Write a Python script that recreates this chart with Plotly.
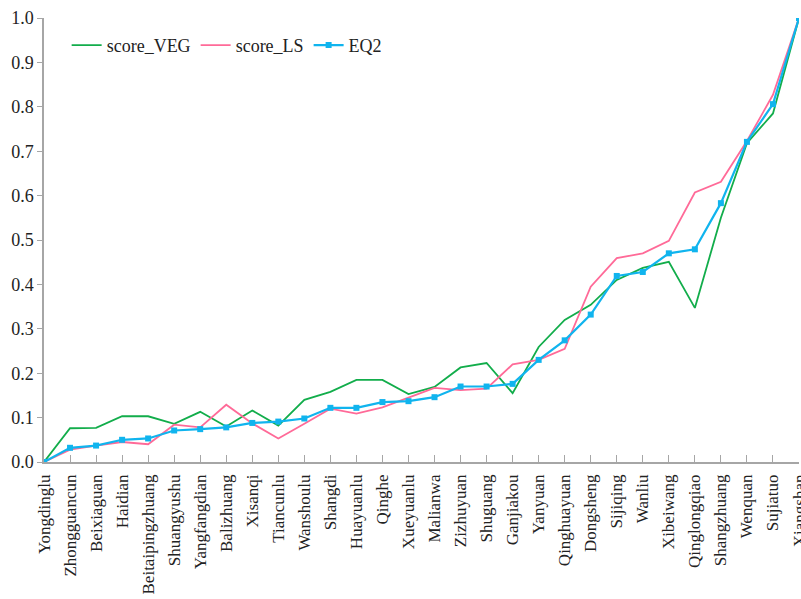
import plotly.graph_objects as go

stations = ["Yongdinglu", "Zhongguancun", "Beixiaguan", "Haidian", "Beitaipingzhuang",
            "Shuangyushu", "Yangfangdian", "Balizhuang", "Xisanqi", "Tiancunlu",
            "Wanshoulu", "Shangdi", "Huayuanlu", "Qinghe", "Xueyuanlu",
            "Malianwa", "Zizhuyuan", "Shuguang", "Ganjiakou", "Yanyuan",
            "Qinghuayuan", "Dongsheng", "Sijiqing", "Wanliu", "Xibeiwang",
            "Qinglongqiao", "Shangzhuang", "Wenquan", "Sujiatuo", "Xiangshan"]

score_veg = [0.0, 0.076, 0.077, 0.103, 0.103, 0.086, 0.113, 0.080, 0.116, 0.082,
             0.140, 0.158, 0.185, 0.185, 0.153, 0.169, 0.213, 0.223, 0.155, 0.259,
             0.320, 0.354, 0.410, 0.437, 0.451, 0.347, 0.550, 0.718, 0.785, 1.0]

score_ls = [0.0, 0.028, 0.037, 0.045, 0.040, 0.084, 0.078, 0.129, 0.087, 0.053,
            0.086, 0.120, 0.109, 0.123, 0.145, 0.167, 0.162, 0.165, 0.220, 0.230,
            0.255, 0.395, 0.459, 0.470, 0.498, 0.607, 0.631, 0.723, 0.827, 1.0]

eq2 = [0.0, 0.032, 0.037, 0.050, 0.053, 0.071, 0.074, 0.078, 0.088, 0.091,
       0.098, 0.122, 0.122, 0.135, 0.137, 0.146, 0.170, 0.170, 0.176, 0.230,
       0.274, 0.332, 0.419, 0.428, 0.470, 0.479, 0.583, 0.721, 0.806, 1.0]

y_ticks = [0.0, 0.1, 0.2, 0.3, 0.4, 0.5, 0.6, 0.7, 0.8, 0.9, 1.0]

FONT = "Liberation Serif"

fig = go.Figure()
fig.add_trace(go.Scatter(x=stations, y=score_veg, mode="lines", name="score_VEG",
                         line=dict(color="#12AD4B", width=1.8)))
fig.add_trace(go.Scatter(x=stations, y=score_ls, mode="lines", name="score_LS",
                         line=dict(color="#FF6A98", width=1.8)))
fig.add_trace(go.Scatter(x=stations, y=eq2, mode="lines+markers", name="EQ2",
                         line=dict(color="#10B4EE", width=2.2),
                         marker=dict(symbol="square", size=6, color="#10B4EE")))

fig.update_layout(
    width=801, height=599,
    margin=dict(l=44, r=2, t=18, b=137),
    plot_bgcolor="white", paper_bgcolor="white",
    font=dict(family=FONT, size=18, color="#222222"),
    showlegend=True,
    legend=dict(orientation="h", x=0.03, y=0.98, xanchor="left", yanchor="top",
                font=dict(family=FONT, size=18, color="#222222"),
                bgcolor="rgba(0,0,0,0)", itemwidth=30),
    xaxis=dict(type="category", categoryorder="array", categoryarray=stations,
               range=[0, len(stations) - 1], automargin=False,
               showline=True, linecolor="#A6A6A6", linewidth=1.5,
               ticks="inside", ticklen=7, tickcolor="#A6A6A6", tickwidth=1,
               tickangle=-90, showgrid=False, zeroline=False,
               ticklabelstandoff=4,
               tickfont=dict(family=FONT, size=17, color="#222222")),
    yaxis=dict(range=[0, 1.0], tickvals=y_ticks, automargin=False,
               ticktext=[f"{v:.1f}" for v in y_ticks],
               showline=True, linecolor="#A6A6A6", linewidth=1.5,
               ticks="outside", ticklen=5, tickcolor="#A6A6A6",
               showgrid=False, zeroline=False,
               tickfont=dict(family=FONT, size=18, color="#222222")),
)

fig.write_html("out.html")
